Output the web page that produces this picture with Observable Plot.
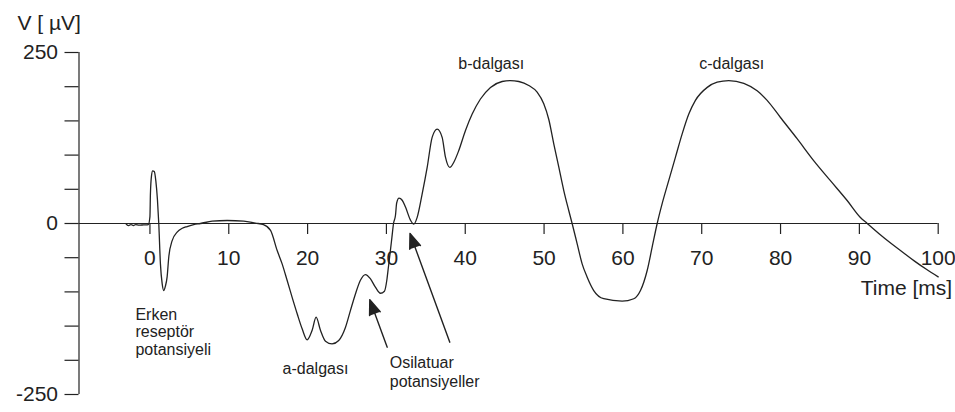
<!DOCTYPE html>
<html>
<head>
<meta charset="utf-8">
<script src="https://cdn.jsdelivr.net/npm/d3@7"></script>
<script src="https://cdn.jsdelivr.net/npm/@observablehq/plot@0.6"></script>
<style>
  html, body { margin: 0; padding: 0; background: #fff; }
  #chart svg { display: block; }
</style>
</head>
<body>
<div id="chart"></div>
<script>
// Electroretinogram trace: potential (µV) against time after the flash (ms)
const timeMs = [
  -3.0, -2.7, -2.4, -2.1, -1.8, -1.4, -0.8, -0.2,
  0.0, 0.06, 0.2, 0.35, 0.55, 0.75, 0.95, 1.12, 1.33, 1.55, 1.75, 1.95, 2.18, 2.39, 2.82, 3.45, 4.1, 4.72, 5.56, 6.4,
  7.9, 9.8, 11.9, 13.4, 14.4, 15.3,
  16.14, 16.77, 17.4, 18.04, 18.68, 19.31, 19.94, 20.58, 21.08, 21.63, 22.27, 23.1, 23.95, 24.8, 25.44, 26.07, 26.7,
  27.34, 27.98, 28.6, 29.24, 29.75, 30.05, 30.25, 30.5, 30.7, 30.9, 31.15, 31.3, 31.6, 32.0, 32.42, 33.05, 33.47,
  33.9, 34.53, 35.17, 35.8, 36.44, 37.07, 37.49, 38.04, 38.55, 39.18, 40.03, 40.88, 41.93, 43.2, 44.68, 45.7, 46.8,
  48.06, 49.12, 49.96, 50.6, 51.23, 51.87, 52.5, 53.13, 53.56, 54.2, 54.83, 55.47, 56.3, 57.57, 59.9, 61.38, 62.23,
  63.08, 63.71, 64.35, 64.98, 65.82, 66.67, 67.52, 68.36, 69.2, 70.7, 71.96, 73.43, 75.34, 77.03, 78.3, 79.99,
  82.1, 84.2, 86.3, 88.45, 90.1, 91.0, 92.5, 94.0, 95.5, 97.0, 98.5, 100.0
];
const voltageUV = [
  -1, -3, -1.5, -3, -1.5, -2.5, -2, -1.5,
  10, 43, 70, 77, 76, 62, 35, 0, -59, -88, -98, -92, -78, -49, -25, -12.7, -7, -4.4, -1.5, 0,
  3.4, 4.4, 3.4, 0.5, -1.5, -10,
  -39.5, -59, -83, -108, -132, -154, -170, -156, -137, -156, -172, -176, -171, -152, -127, -103, -83,
  -74.6, -81, -93, -102, -99, -83, -64, -40, -20, 0, 12, 30, 37, 34, 24, 5, -1,
  9, 43, 82, 126, 138, 126, 97, 82, 89.6, 106.7, 136, 160, 182, 199, 207.6, 209, 207.6,
  201.8, 192, 175, 152, 116.5, 82.3, 48.2, 19, 0, -29.7, -59, -78.5, -98, -110, -113.6, -110, -98,
  -68.7, -34.6, 0, 29, 63, 97, 131, 160, 180, 199, 206.6, 209, 205, 194, 180, 155,
  124, 92, 63, 33.6, 9.2, 0, -15, -29, -42, -55, -67, -78
];

const xDomain = [-9, 100];
const yDomain = [-250, 250];
const xTicks = [0, 10, 20, 30, 40, 50, 60, 70, 80, 90, 100];
const yTicks = [-250, -200, -150, -100, -50, 0, 50, 100, 150, 200, 250];
const yLabelled = [-250, 0, 250];

// wave names
const waveNames = ["b-dalgası", "c-dalgası", "a-dalgası"];
const waveNameTime = [43.3, 73.8, 21.0];
const waveNameVolt = [234, 234, -212];

// multi-line notes with their arrows
const erpNote = "Erken\nreseptör\npotansiyeli";
const erpNoteAt = [-1.84, -122.4];
const opNote = "Osilatuar\npotansiyeller";
const opNoteAt = [30.42, -191.5];
const arrowTailTime = [30.1, 38.04];
const arrowTailVolt = [-180.8, -173.5];
const arrowTipTime = [27.89, 32.99];
const arrowTipVolt = [-111.5, -14.6];

const trace = timeMs.map((t, i) => ({t, v: voltageUV[i]}));
const waveNameRows = waveNames.map((text, i) => ({text, t: waveNameTime[i], v: waveNameVolt[i]}));
const arrows = arrowTailTime.map((t, i) => ({
  x1: t, y1: arrowTailVolt[i], x2: arrowTipTime[i], y2: arrowTipVolt[i]
}));

const ink = "#222";
const font = "'Liberation Sans', Arial, sans-serif";

const chart = Plot.plot({
  width: 955,
  height: 412,
  marginLeft: 78.5,
  marginRight: 17.3,
  marginTop: 52,
  marginBottom: 18,
  style: {fontFamily: font, fontSize: "16px", color: ink, background: "#fff"},
  x: {domain: xDomain, axis: null},
  y: {domain: yDomain},
  marks: [
    // vertical axis with ticks every 50 µV, labels at the ends and zero
    Plot.ruleX([xDomain[0]], {stroke: ink, strokeWidth: 1.2}),
    Plot.axisY({
      ticks: yTicks,
      tickSize: 14,
      tickPadding: 7,
      strokeWidth: 1.2,
      fontSize: 21,
      label: null,
      tickFormat: d => (yLabelled.includes(d) ? String(d) : "")
    }),
    // horizontal time axis drawn along zero
    Plot.ruleY([0], {stroke: ink, strokeWidth: 1.2}),
    Plot.ruleX(xTicks, {x: d => d, y1: 0, y2: 0, insetBottom: -11, stroke: ink, strokeWidth: 1.2}),
    Plot.text(xTicks, {x: d => d, y: 0, dy: 35, text: d => String(d), fontSize: 21, fill: ink}),
    // axis titles
    Plot.text(["V [ µV]"], {frameAnchor: "top-left", dx: -61.5, dy: -37, textAnchor: "start", fontSize: 21, fill: ink, letterSpacing: "1px"}),
    Plot.text(["Time [ms]"], {x: xDomain[1], y: 0, dx: 14, dy: 65, textAnchor: "end", fontSize: 21, fill: ink}),
    // the response
    Plot.line(trace, {x: "t", y: "v", curve: "monotone-x", stroke: ink, strokeWidth: 1.3}),
    // annotations
    Plot.text(waveNameRows, {x: "t", y: "v", text: "text", fontSize: 16, fill: ink}),
    Plot.text([erpNote], {x: erpNoteAt[0], y: erpNoteAt[1], text: d => d, textAnchor: "start", lineAnchor: "top", lineHeight: 1.1, fontSize: 16, fill: ink}),
    Plot.text([opNote], {x: opNoteAt[0], y: opNoteAt[1], text: d => d, textAnchor: "start", lineAnchor: "top", lineHeight: 1.2, fontSize: 16, fill: ink}),
    Plot.arrow(arrows, {x1: "x1", y1: "y1", x2: "x2", y2: "y2", stroke: ink, fill: ink, strokeWidth: 1.4, headLength: 17, headAngle: 42})
  ]
});

document.getElementById("chart").append(chart);
</script>
</body>
</html>
